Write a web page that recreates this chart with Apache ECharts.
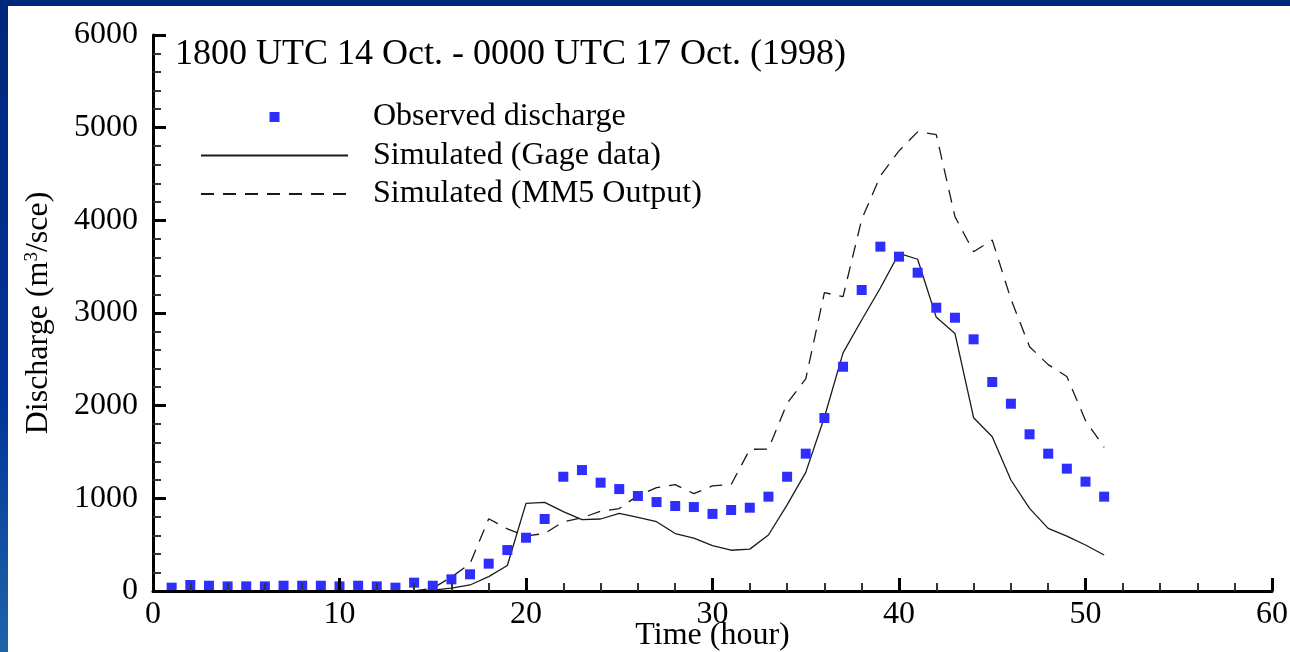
<!DOCTYPE html>
<html><head><meta charset="utf-8">
<script src="https://cdn.jsdelivr.net/npm/echarts@6/dist/echarts.min.js"></script>
<style>html,body{margin:0;padding:0;background:#fff}#c{width:1290px;height:652px}</style>
</head><body><div id="c"></div>
<script>
const titleText = '1800 UTC 14 Oct. - 0000 UTC 17 Oct. (1998)';
const seriesNames = ['Observed discharge', 'Simulated (Gage data)', 'Simulated (MM5 Output)'];
const hours = [1,2,3,4,5,6,7,8,9,10,11,12,13,14,15,16,17,18,19,20,21,22,23,24,25,26,27,28,29,30,31,32,33,34,35,36,37,38,39,40,41,42,43,44,45,46,47,48,49,50,51];
const observed = [36,65,57,50,50,50,57,57,57,50,57,50,36,90,57,126,180,295,442,575,777,1233,1305,1169,1100,1025,960,917,906,832,874,899,1018,1233,1482,1867,2420,3248,3716,3608,3435,3057,2949,2716,2255,2021,1691,1482,1320,1180,1018];
const gage = [0,0,0,0,0,0,0,0,0,0,0,0,0,0,10,30,65,155,275,946,957,856,770,777,838,795,748,620,570,490,440,452,604,930,1280,1875,2570,2924,3270,3644,3580,2953,2780,1870,1665,1198,892,676,593,496,388];
const mm5 = [0,0,0,0,0,0,0,0,0,0,0,0,0,0,30,150,295,780,670,595,620,748,790,860,890,1030,1115,1148,1050,1135,1148,1529,1532,2025,2290,3219,3176,4010,4480,4750,4955,4925,4040,3661,3788,3150,2636,2443,2315,1840,1550];
const xRange = [0, 60, 10];
const yRange = [0, 6000, 1000];

const FONT = "'Liberation Serif', 'Times New Roman', serif";
const pairs = arr => hours.map((h, i) => [h, arr[i]]);

const chart = echarts.init(document.getElementById('c'), null, {renderer: 'canvas'});
const axisCommon = {
  type: 'value',
  z: 3,
  splitLine: {show: false},
  axisLine: {show: true, onZero: false, lineStyle: {color: '#000', width: 3}},
  axisTick: {show: true, inside: true, length: 13, lineStyle: {color: '#000', width: 3}},
  minorTick: {show: true, splitNumber: 5, length: 8, lineStyle: {color: '#333', width: 2}},
  nameMoveOverlap: false,
  nameTextStyle: {fontFamily: FONT, fontSize: 32, color: '#000'}
};
const hideDot = {color: 'rgba(0,0,0,0)', borderWidth: 0, borderColor: 'rgba(0,0,0,0)'};
chart.setOption({
  animation: false,
  backgroundColor: '#fff',
  textStyle: {fontFamily: FONT},
  title: {
    text: titleText, left: 170, top: 32,
    textStyle: {fontFamily: FONT, fontSize: 36, fontWeight: 'normal', color: '#000', lineHeight: 36}
  },
  graphic: [
    {type: 'rect', z: 100, shape: {x: 0, y: 0, width: 1290, height: 6}, style: {fill: '#00287a'}},
    {type: 'rect', z: 100, shape: {x: 0, y: 0, width: 8, height: 652},
     style: {fill: new echarts.graphic.LinearGradient(0, 0, 0, 1, [
       {offset: 0, color: '#00287a'}, {offset: 0.6, color: '#003399'}, {offset: 1, color: '#1e64a8'}])}}
  ],
  legend: {
    orient: 'vertical', left: 195, top: 96,
    itemWidth: 147, itemHeight: 10, itemGap: 6.5,
    selectedMode: false,
    textStyle: {fontFamily: FONT, fontSize: 32, color: '#000', lineHeight: 32, padding: [0, 0, 0, 20]},
    data: [
      {name: seriesNames[0], icon: 'path://M0,0M147,10M68.5,0h10v10h-10z'},
      {name: seriesNames[1], itemStyle: hideDot},
      {name: seriesNames[2], itemStyle: hideDot}
    ]
  },
  grid: {left: 153, right: 18, top: 35, bottom: 61, outerBoundsMode: 'none', containLabel: false},
  xAxis: Object.assign({}, axisCommon, {
    min: xRange[0], max: xRange[1], interval: xRange[2],
    axisLabel: {fontFamily: FONT, fontSize: 32, color: '#000', margin: 8, formatter: v => String(v)},
    name: 'Time (hour)', nameLocation: 'middle', nameGap: 29
  }),
  yAxis: Object.assign({}, axisCommon, {
    min: yRange[0], max: yRange[1], interval: yRange[2],
    axisLabel: {fontFamily: FONT, fontSize: 32, color: '#000', margin: 15, formatter: v => String(v)},
    name: 'Discharge (m{sup|3}/sce)', nameLocation: 'middle', nameGap: 98, nameRotate: 90,
    nameTextStyle: {fontFamily: FONT, fontSize: 32, color: '#000', lineHeight: 32,
      rich: {sup: {fontFamily: FONT, fontSize: 19, color: '#000', verticalAlign: 'top', lineHeight: 32, padding: [0, 0, 12, 0]}}}
  }),
  series: [
    {name: seriesNames[0], type: 'scatter', data: pairs(observed), symbol: 'rect', symbolSize: 10,
     itemStyle: {color: '#2e2eff', opacity: 1}, z: 2},
    {name: seriesNames[1], type: 'line', data: pairs(gage), symbol: 'none', showSymbol: false,
     itemStyle: hideDot,
     lineStyle: {color: '#1a1a1a', width: 1.3, type: 'solid'}, z: 1},
    {name: seriesNames[2], type: 'line', data: pairs(mm5), symbol: 'none', showSymbol: false,
     itemStyle: hideDot,
     lineStyle: {color: '#1a1a1a', width: 1.3, type: [13, 9]}, z: 1}
  ]
});
</script></body></html>
